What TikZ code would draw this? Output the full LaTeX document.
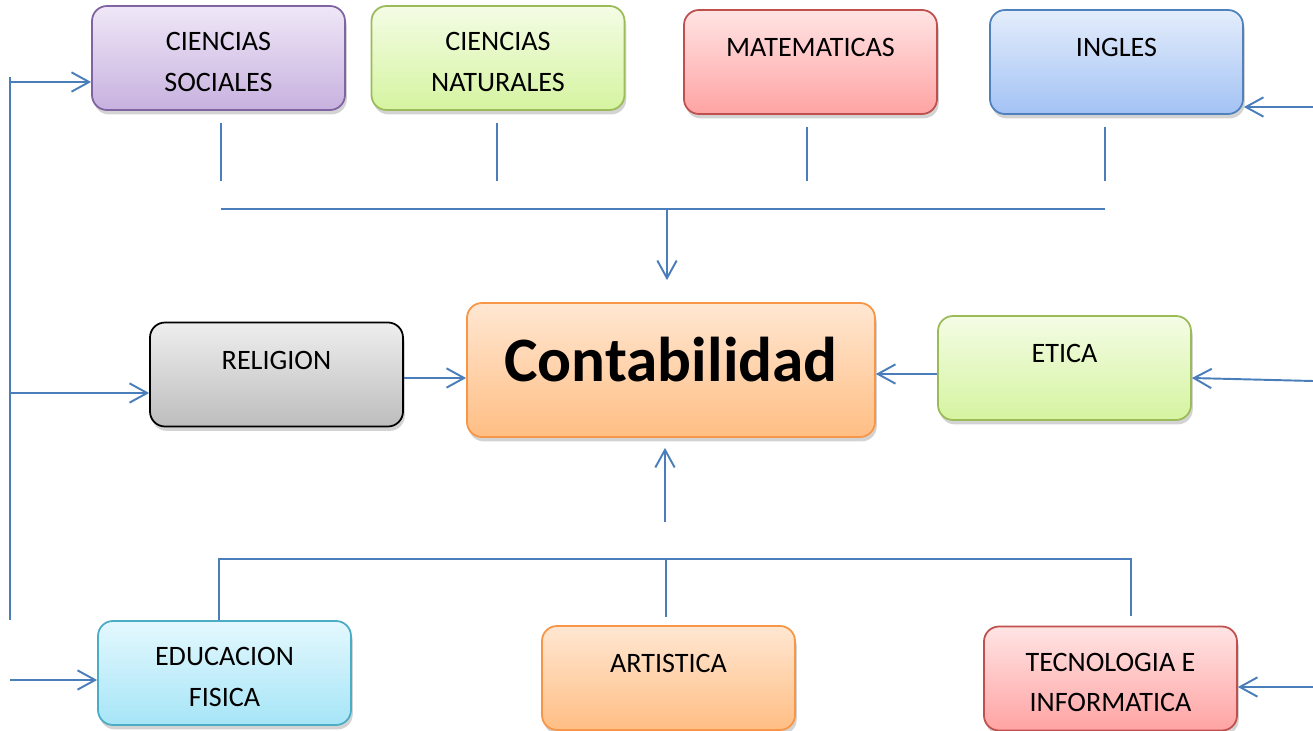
\documentclass[tikz,border=0pt]{standalone}
\usepackage{fontspec}
\setmainfont{Carlito}
\usetikzlibrary{arrows.meta}
\usetikzlibrary{shadows}
\usetikzlibrary{positioning}
\definecolor{linkblue}{HTML}{4A7EBB}
\definecolor{purpleline}{HTML}{8064A2}
\definecolor{purpletop}{HTML}{EFE7F7}
\definecolor{purplebot}{HTML}{C7B1DF}
\definecolor{greenline}{HTML}{9BBB59}
\definecolor{greentop}{HTML}{F4FCE5}
\definecolor{greenbot}{HTML}{D5F4A0}
\definecolor{redline}{HTML}{C0504D}
\definecolor{redtop}{HTML}{FFE4E4}
\definecolor{redbot}{HTML}{FFA3A3}
\definecolor{blueline}{HTML}{4F81BD}
\definecolor{bluetop}{HTML}{E4EDFB}
\definecolor{bluebot}{HTML}{A3C2F4}
\definecolor{graytop}{HTML}{EEEEEE}
\definecolor{graybot}{HTML}{BDBDBD}
\definecolor{orangeline}{HTML}{F79646}
\definecolor{orangetop}{HTML}{FFE7D2}
\definecolor{orangebot}{HTML}{FFBE84}
\definecolor{cyanline}{HTML}{4BACC6}
\definecolor{cyantop}{HTML}{E4F8FE}
\definecolor{cyanbot}{HTML}{A6E5F7}
\newcommand{\topgap}{\rule{0pt}{15pt}}
\tikzset{area/.style={draw, rounded corners=0.3cm, line width=1pt, minimum width=5.06cm, minimum height=2.08cm, align=center, font=\fontsize{16}{23}\selectfont, drop shadow={shadow xshift=1pt, shadow yshift=-2.5pt, opacity=0.35}}}
\tikzset{oneline/.style={text height=11pt, text depth=17pt}}
\tikzset{purplebox/.style={draw=purpleline, top color=purpletop, bottom color=purplebot}}
\tikzset{greenbox/.style={draw=greenline, top color=greentop, bottom color=greenbot}}
\tikzset{redbox/.style={draw=redline, top color=redtop, bottom color=redbot}}
\tikzset{bluebox/.style={draw=blueline, top color=bluetop, bottom color=bluebot}}
\tikzset{graybox/.style={draw=black, top color=graytop, bottom color=graybot}}
\tikzset{orangebox/.style={draw=orangeline, top color=orangetop, bottom color=orangebot}}
\tikzset{cyanbox/.style={draw=cyanline, top color=cyantop, bottom color=cyanbot}}
\tikzset{link/.style={draw=linkblue, line width=1.1pt}}
\tikzset{flow/.style={link, -{Straight Barb[length=10pt,width=11pt]}}}

\begin{document}
\begin{tikzpicture}

\useasboundingbox (-13.42,-7.2) rectangle (12.84,7.4);

%centre
\node[area, orangebox, minimum width=8.16cm, minimum height=2.68cm, font=\fontsize{36}{40}\selectfont\bfseries, text height=27pt, text depth=13.4pt] (conta) at (0,0) {Contabilidad};

%top row
\node[area, purplebox] (cs) at([xshift=-9.05cm,yshift=6.24cm]conta) {\topgap CIENCIAS\\SOCIALES};
\node[area, greenbox] (cn) at([xshift=-3.46cm,yshift=6.24cm]conta) {\topgap CIENCIAS\\NATURALES};
\node[area, redbox, oneline] (mat) at([xshift=2.79cm,yshift=6.16cm]conta) {MATEMATICAS};
\node[area, bluebox, oneline] (ing) at([xshift=8.91cm,yshift=6.16cm]conta) {INGLES};

%middle row
\node[area, graybox, oneline] (rel) at([xshift=-7.89cm,yshift=-0.09cm]conta) {RELIGION};
\node[area, greenbox, oneline] (etica) at([xshift=7.87cm,yshift=0.04cm]conta) {ETICA};

%bottom row
\node[area, cyanbox] (ef) at([xshift=-8.93cm,yshift=-6.06cm]conta) {\topgap EDUCACION\\FISICA};
\node[area, orangebox, oneline] (art) at([xshift=-0.05cm,yshift=-6.16cm]conta) {ARTISTICA};
\node[area, redbox] (tec) at([xshift=8.79cm,yshift=-6.17cm]conta) {\topgap TECNOLOGIA E\\INFORMATICA};

%top bus
\coordinate (topbus) at ([yshift=1.86cm]conta.north);
\foreach \n/\dx in {cs/0.05,cn/-0.02,mat/-0.07,ing/-0.23}
  \draw[link] ([xshift=\dx cm,yshift=-0.24cm]\n.south) -- ([xshift=\dx cm,yshift=0.56cm]\n.south |- topbus);
\draw[link] ([xshift=0.05cm]cs.south |- topbus) -- ([xshift=-0.23cm]ing.south |- topbus);
\draw[flow] ([xshift=-0.08cm]conta.north |- topbus) -- ([xshift=-0.08cm,yshift=0.44cm]conta.north);

%bottom bus
\coordinate (botbus) at ([yshift=-2.42cm]conta.south);
\draw[link] ([xshift=-0.11cm]ef.north) |- (botbus) -| ([xshift=0.41cm,yshift=0.2cm]tec.north);
\draw[link] ([xshift=-0.05cm,yshift=0.16cm]art.north) -- ([xshift=-0.05cm]art.north |- botbus);
\draw[flow] ([xshift=-0.12cm,yshift=-1.68cm]conta.south) -- ([xshift=-0.12cm,yshift=-0.2cm]conta.south);

%left side
\coordinate (ltop) at (-13.22,5.86);
\coordinate (lbot) at (-13.22,-5.0);
\draw[link] (ltop) -- (lbot);
\draw[flow] ([yshift=-0.48cm]cs.west -| ltop) -- ([yshift=-0.48cm]cs.west);
\draw[flow] ([yshift=-0.37cm]rel.west -| ltop) -- ([yshift=-0.37cm]rel.west);
\draw[flow] ([yshift=-0.14cm]ef.west -| ltop) -- ([yshift=-0.14cm]ef.west);

%right side
\coordinate (redge) at (12.84,0);
\draw[flow] ([yshift=-0.9cm]ing.east -| redge) -- ([yshift=-0.9cm]ing.east);
\draw[flow] ([yshift=-0.26cm]etica.east -| redge) -- ([yshift=-0.2cm]etica.east);
\draw[flow] ([yshift=-0.17cm]tec.east -| redge) -- ([yshift=-0.17cm]tec.east);

%into the centre
\draw[flow] ([yshift=-0.07cm]rel.east) -- ([yshift=-0.07cm]rel.east -| conta.west);
\draw[flow] ([yshift=-0.12cm]etica.west) -- ([yshift=-0.12cm]etica.west -| conta.east);

\end{tikzpicture}
\end{document}
